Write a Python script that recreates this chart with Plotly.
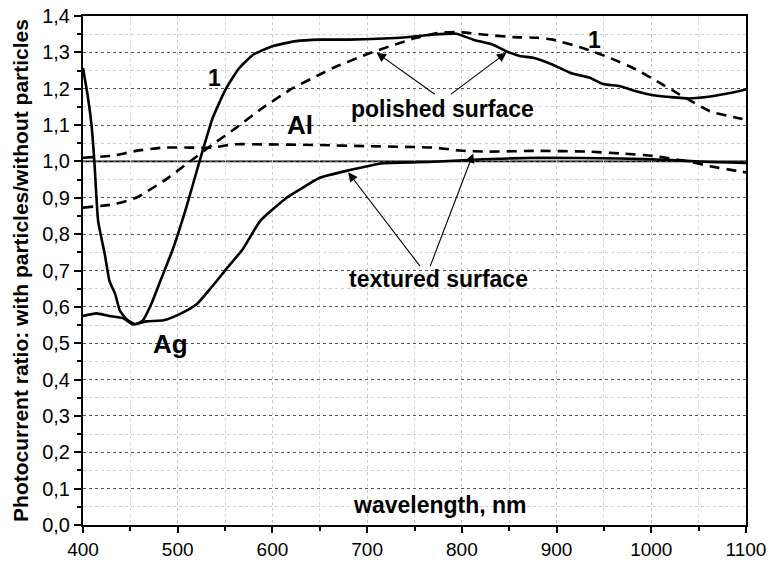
import plotly.graph_objects as go

# ---- data ----
ag_pol_wl = [400, 405, 409, 412, 416, 423, 428, 434, 439, 446, 455, 463, 472, 483, 495, 509, 523, 537, 551, 565,
             580, 600, 625, 650, 680, 735, 770, 794, 812, 833, 847, 861, 875, 896, 914, 935, 949, 967, 984, 1002,
             1020, 1040, 1058, 1079, 1100]
ag_pol_ratio = [1.257, 1.18, 1.10, 1.0, 0.836, 0.745, 0.671, 0.635, 0.589, 0.566, 0.552, 0.562, 0.607, 0.68, 0.76,
                0.873, 1.0, 1.12, 1.2, 1.257, 1.294, 1.317, 1.331, 1.335, 1.335, 1.34, 1.349, 1.351, 1.335, 1.321,
                1.303, 1.29, 1.285, 1.266, 1.244, 1.23, 1.213, 1.207, 1.193, 1.182, 1.177, 1.173, 1.177, 1.186, 1.198]

ag_tex_wl = [400, 414, 428, 442, 453, 467, 485, 502, 520, 537, 551, 569, 587, 615, 629, 650, 678, 717, 770, 822,
             882, 967, 1020, 1055, 1100]
ag_tex_ratio = [0.575, 0.582, 0.575, 0.569, 0.552, 0.56, 0.563, 0.58, 0.607, 0.658, 0.703, 0.76, 0.836, 0.90, 0.923,
                0.955, 0.974, 0.995, 0.999, 1.006, 1.01, 1.008, 1.004, 0.999, 0.996]

al_pol_wl = [400, 432, 456, 485, 513, 537, 562, 590, 622, 650, 664, 699, 724, 752, 777, 798, 822, 854, 880, 896,
             932, 956, 984, 1009, 1030, 1062, 1090, 1100]
al_pol_ratio = [0.873, 0.882, 0.90, 0.946, 1.0, 1.047, 1.093, 1.148, 1.202, 1.239, 1.257, 1.294, 1.317, 1.34, 1.354,
                1.356, 1.349, 1.342, 1.34, 1.335, 1.308, 1.285, 1.253, 1.216, 1.184, 1.138, 1.12, 1.115]

al_tex_wl = [400, 432, 456, 485, 513, 537, 558, 590, 650, 699, 770, 798, 826, 880, 932, 967, 1002, 1037, 1062,
             1090, 1100]
al_tex_ratio = [1.01, 1.016, 1.029, 1.038, 1.038, 1.038, 1.047, 1.047, 1.045, 1.042, 1.038, 1.03, 1.027, 1.029,
                1.027, 1.022, 1.015, 1.001, 0.987, 0.974, 0.97]

x_ticks = [400, 500, 600, 700, 800, 900, 1000, 1100]
y_ticks = [0.0, 0.1, 0.2, 0.3, 0.4, 0.5, 0.6, 0.7, 0.8, 0.9, 1.0, 1.1, 1.2, 1.3, 1.4]
y_tick_labels = ["0,0", "0,1", "0,2", "0,3", "0,4", "0,5", "0,6", "0,7", "0,8", "0,9", "1,0", "1,1", "1,2", "1,3", "1,4"]

FONT = "Liberation Sans, Arial, sans-serif"

fig = go.Figure()
line_w = 2.6
common = dict(mode="lines", showlegend=False, line_shape="spline")
fig.add_trace(go.Scatter(x=ag_pol_wl, y=ag_pol_ratio, line=dict(color="black", width=line_w, smoothing=0.5), **common))
fig.add_trace(go.Scatter(x=ag_tex_wl, y=ag_tex_ratio, line=dict(color="black", width=line_w, smoothing=0.5), **common))
fig.add_trace(go.Scatter(x=al_pol_wl, y=al_pol_ratio,
                         line=dict(color="black", width=line_w, dash="10px,7px", smoothing=0.5), **common))
fig.add_trace(go.Scatter(x=al_tex_wl, y=al_tex_ratio,
                         line=dict(color="black", width=line_w, dash="10px,7px", smoothing=0.5), **common))

fig.add_hline(y=1.0, line=dict(color="black", width=1.8), layer="below")

def label(text, x, y, size):
    fig.add_annotation(x=x, y=y, xref="x", yref="y", text="<b>%s</b>" % text, showarrow=False,
                       font=dict(family=FONT, size=size, color="black"))

label("1", 539, 1.23, 23)
label("1", 940, 1.334, 23)
label("Al", 629, 1.10, 26)
label("Ag", 492, 0.497, 26)
label("polished surface", 780, 1.143, 23)
label("textured surface", 775, 0.676, 23)
label("wavelength, nm", 777, 0.054, 23)

def arrow(x0, y0, x1, y1):
    fig.add_annotation(x=x1, y=y1, ax=x0, ay=y0, xref="x", yref="y", axref="x", ayref="y",
                       text="", showarrow=True, arrowhead=2, arrowsize=1.7, arrowwidth=1.1,
                       arrowcolor="black")

arrow(773, 1.182, 710, 1.299)
arrow(787, 1.182, 847, 1.299)
arrow(757, 0.708, 680, 0.97)
arrow(766, 0.708, 812, 1.022)

fig.update_layout(
    width=768, height=562,
    margin=dict(l=83, r=22, t=16, b=37),
    plot_bgcolor="white", paper_bgcolor="white",
    font=dict(family=FONT, size=19, color="black"),
    showlegend=False,
)
fig.update_xaxes(
    range=[400, 1100], tickvals=x_ticks, ticktext=[str(v) for v in x_ticks],
    showline=True, linecolor="black", linewidth=2, mirror=True,
    ticks="outside", ticklen=6, tickwidth=1.5, tickcolor="black",
    showgrid=True, gridcolor="#c8c8c8", griddash="dot", gridwidth=1,
    minor=dict(dtick=50, ticks="outside", ticklen=4, tickwidth=1.5, tickcolor="black",
               showgrid=True, gridcolor="#d8d8d8", griddash="dot", gridwidth=1),
    zeroline=False, automargin=False,
    tickfont=dict(family=FONT, size=19, color="black"),
)
fig.update_yaxes(
    range=[0, 1.4], tickvals=y_ticks, ticktext=y_tick_labels,
    showline=True, linecolor="black", linewidth=2, mirror=True,
    ticks="outside", ticklen=7, tickwidth=1.5, tickcolor="black",
    showgrid=True, gridcolor="#555555", griddash="dot", gridwidth=1,
    minor=dict(dtick=0.05, ticks="outside", ticklen=4, tickwidth=1.5, tickcolor="black",
               showgrid=True, gridcolor="#d0d0d0", griddash="dot", gridwidth=1),
    zeroline=False, automargin=False,
    tickfont=dict(family=FONT, size=20, color="black"),
    title=dict(text="<b>Photocurrent ratio: with particles/without particles</b>",
               font=dict(family=FONT, size=21, color="black"), standoff=8),
)

fig.write_html("out.html")
